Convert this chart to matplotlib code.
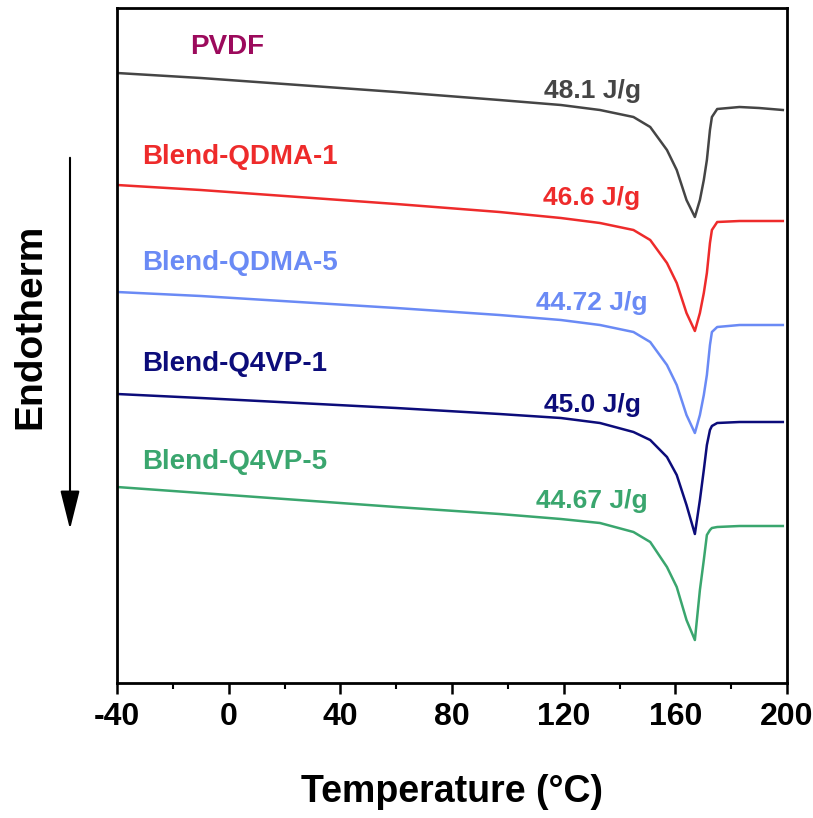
import matplotlib.pyplot as plt
from matplotlib.ticker import MultipleLocator
from matplotlib.patches import FancyArrowPatch

plt.rcParams['font.family'] = ['Liberation Sans', 'DejaVu Sans']
plt.rcParams['font.weight'] = 'bold'
plt.rcParams['axes.unicode_minus'] = False

# Temperature points (°C) shared by all traces
temperature = [-40, -10, 25, 60, 97, 119, 133, 145, 151, 157, 160.5, 164, 167,
               168.8, 170.2, 171.3, 172.4, 173.1, 175, 183, 190, 198.5]

# Heat flow (arb. units, stacked)
pvdf = [6.27, 6.22, 6.15, 6.08, 6.00, 5.95, 5.90, 5.83, 5.73, 5.50, 5.30, 5.00, 4.83,
        5.00, 5.20, 5.40, 5.70, 5.83, 5.91, 5.93, 5.92, 5.90]
qdma1 = [5.15, 5.10, 5.03, 4.96, 4.88, 4.82, 4.77, 4.70, 4.60, 4.37, 4.17, 3.87, 3.69,
         3.87, 4.07, 4.27, 4.57, 4.70, 4.78, 4.79, 4.79, 4.79]
qdma5 = [4.08, 4.04, 3.98, 3.92, 3.85, 3.80, 3.75, 3.68, 3.58, 3.35, 3.15, 2.85, 2.67,
         2.85, 3.05, 3.25, 3.55, 3.68, 3.73, 3.75, 3.75, 3.75]
q4vp1 = [3.06, 3.02, 2.97, 2.92, 2.86, 2.82, 2.77, 2.68, 2.60, 2.43, 2.25, 1.95, 1.66,
         2.00, 2.30, 2.55, 2.70, 2.74, 2.77, 2.78, 2.78, 2.78]
q4vp5 = [2.13, 2.07, 2.00, 1.93, 1.86, 1.81, 1.77, 1.68, 1.58, 1.33, 1.13, 0.80, 0.60,
         1.10, 1.40, 1.65, 1.70, 1.72, 1.73, 1.74, 1.74, 1.74]

names = ["PVDF", "Blend-QDMA-1", "Blend-QDMA-5", "Blend-Q4VP-1", "Blend-Q4VP-5"]
enthalpy = ["48.1 J/g", "46.6 J/g", "44.72 J/g", "45.0 J/g", "44.67 J/g"]
series = [pvdf, qdma1, qdma5, q4vp1, q4vp5]

line_colors = ["#454545", "#ee2b2b", "#6a8af5", "#0c0c7a", "#3aa66e"]
name_colors = ["#9c0a5c", "#ee2b2b", "#6a8af5", "#0c0c7a", "#3aa66e"]

fig = plt.figure(figsize=(8.13, 8.18), dpi=100)
ax = fig.add_axes([117 / 813, 1 - 683 / 818, 670 / 813, 675 / 818])

for y, c in zip(series, line_colors):
    ax.plot(temperature, y, color=c, lw=1.8)

# label positions (pixels in the figure)
name_y = [47, 157, 263, 364, 462]
val_y = [91, 198, 303, 405, 501]
for i in range(5):
    x0 = 190 if i == 0 else 142
    ax.text((x0 - 117) / 670, 1 - (name_y[i] - 8) / 675, names[i], color=name_colors[i],
            fontsize=20, fontweight='bold', va='center', ha='left', transform=ax.transAxes)
    ax.text((592 - 117) / 670, 1 - (val_y[i] - 8) / 675, enthalpy[i], color=line_colors[i],
            fontsize=19, fontweight='bold', va='center', ha='center', transform=ax.transAxes)

ax.set_xlim(-40, 200)
ax.set_ylim(0.17, 6.92)
ax.xaxis.set_major_locator(MultipleLocator(40))
ax.xaxis.set_minor_locator(MultipleLocator(20))
ax.tick_params(axis='x', which='major', direction='out', length=8, width=1.8, pad=6)
ax.tick_params(axis='x', which='minor', direction='out', length=4, width=1.5)
ax.set_yticks([])
for s in ax.spines.values():
    s.set_linewidth(2)
for lab in ax.get_xticklabels():
    lab.set_fontfamily(['Liberation Sans Narrow', 'Liberation Sans'])
    lab.set_fontweight('bold')
    lab.set_fontsize(23)

ax.set_xlabel("Temperature (°C)", fontsize=27, fontweight='bold', labelpad=30)

fig.text(30 / 813, 1 - 326 / 818, "Endotherm", rotation=90, fontsize=28,
         fontweight='bold', ha='center', va='center')
fig.add_artist(FancyArrowPatch(
    (70 / 813, 1 - 155 / 818), (70 / 813, 1 - 532 / 818), transform=fig.transFigure,
    arrowstyle='-|>,head_length=1.2,head_width=0.3', mutation_scale=20, lw=1.5,
    color='black'))

fig.savefig("out.png", dpi=100)
